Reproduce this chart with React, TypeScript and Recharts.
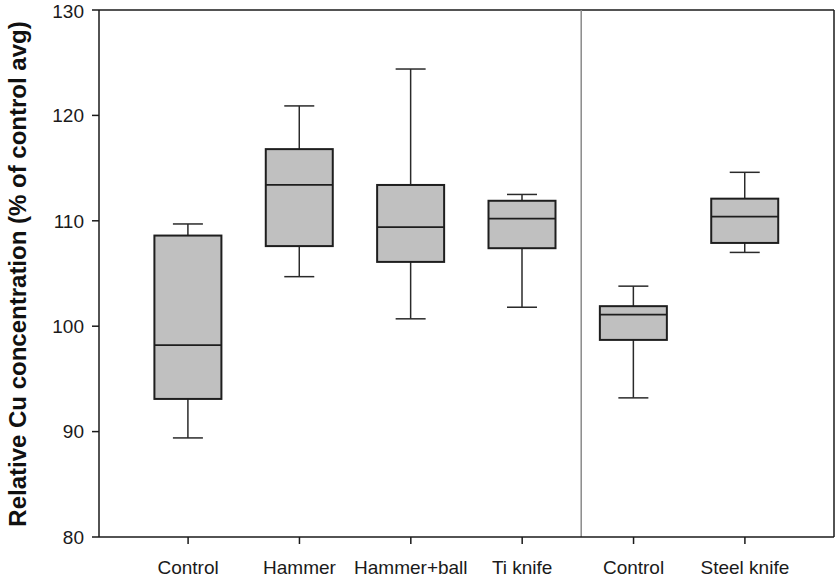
import { Bar, ComposedChart, ReferenceLine, XAxis, YAxis } from "recharts";

const groups = ["Control", "Hammer", "Hammer+ball", "Ti knife", "Control", "Steel knife"];
const positions = [1, 2, 3, 4, 5, 6];
const lows = [89.4, 104.7, 100.7, 101.8, 93.2, 107.0];
const q1s = [93.1, 107.6, 106.1, 107.4, 98.7, 107.9];
const medians = [98.2, 113.4, 109.4, 110.2, 101.1, 110.4];
const q3s = [108.6, 116.8, 113.4, 111.9, 101.9, 112.1];
const highs = [109.7, 120.9, 124.4, 112.5, 103.8, 114.6];
const yTicks = [80, 90, 100, 110, 120, 130];
const dividerAt = 4.53;

const data = positions.map((x, i) => ({
    x,
    name: groups[i],
    low: lows[i],
    q1: q1s[i],
    median: medians[i],
    q3: q3s[i],
    high: highs[i],
    box: [q1s[i], q3s[i]],
}));

const font = "'Liberation Sans', Arial, sans-serif";

// draws whiskers, box and median from the bar rect the library gives for [q1, q3]
function BoxShape(props: any) {
    const { x, y, width, height, payload } = props;
    if (height == null || !payload) return null;
    const ppu = height / (payload.q3 - payload.q1);
    const cx = x + width / 2;
    const top = y - (payload.high - payload.q3) * ppu;
    const bottom = y + height + (payload.q1 - payload.low) * ppu;
    const med = y + (payload.q3 - payload.median) * ppu;
    const cap = 15;
    const line = "#2a2a2a";
    return (
        <g>
            <line x1={cx} x2={cx} y1={top} y2={y} stroke={line} strokeWidth={1.5} />
            <line x1={cx - cap} x2={cx + cap} y1={top} y2={top} stroke={line} strokeWidth={1.5} />
            <line x1={cx} x2={cx} y1={y + height} y2={bottom} stroke={line} strokeWidth={1.5} />
            <line x1={cx - cap} x2={cx + cap} y1={bottom} y2={bottom} stroke={line} strokeWidth={1.5} />
            <rect x={x} y={y} width={width} height={height} fill="#c0c0c0" stroke="#1e1e1e" strokeWidth={2} />
            <line x1={x} x2={x + width} y1={med} y2={med} stroke="#1e1e1e" strokeWidth={1.8} />
        </g>
    );
}

function YTitle() {
    return (
        <text
            x={17}
            y={274}
            transform="rotate(-90, 17, 274)"
            textAnchor="middle"
            dominantBaseline="central"
            fontFamily={font}
            fontWeight="bold"
            fontSize={24}
            fill="#111"
        >
            Relative Cu concentration (% of control avg)
        </text>
    );
}

export default function App() {
    return (
        <div style={{ width: 835, height: 582, background: "#fff" }}>
            <style>{"body{margin:0}"}</style>
            <ComposedChart
                width={835}
                height={582}
                data={data}
                margin={{ top: 10, right: 1, bottom: 0, left: 0 }}
            >
                <XAxis
                    dataKey="x"
                    type="number"
                    domain={[0.2, 6.8]}
                    ticks={positions}
                    tickFormatter={(v) => groups[v - 1]}
                    height={45}
                    tickSize={7}
                    tickMargin={17}
                    stroke="#1a1a1a"
                    strokeWidth={1.5}
                    tick={{ fill: "#1a1a1a", fontSize: 19, fontFamily: font }}
                    interval={0}
                />
                <YAxis
                    domain={[80, 130]}
                    ticks={yTicks}
                    width={99}
                    tickSize={7}
                    tickMargin={8}
                    stroke="#1a1a1a"
                    strokeWidth={1.5}
                    tick={{ fill: "#1a1a1a", fontSize: 19, fontFamily: font }}
                    label={{ content: () => <YTitle /> }}
                    allowDataOverflow
                />
                <ReferenceLine y={130} stroke="#1a1a1a" strokeWidth={1.5} />
                <ReferenceLine x={6.8} stroke="#1a1a1a" strokeWidth={1.5} />
                <ReferenceLine x={dividerAt} stroke="#8a8a8a" strokeWidth={1.5} />
                <Bar dataKey="box" barSize={67} shape={<BoxShape />} isAnimationActive={false} />
            </ComposedChart>
        </div>
    );
}
